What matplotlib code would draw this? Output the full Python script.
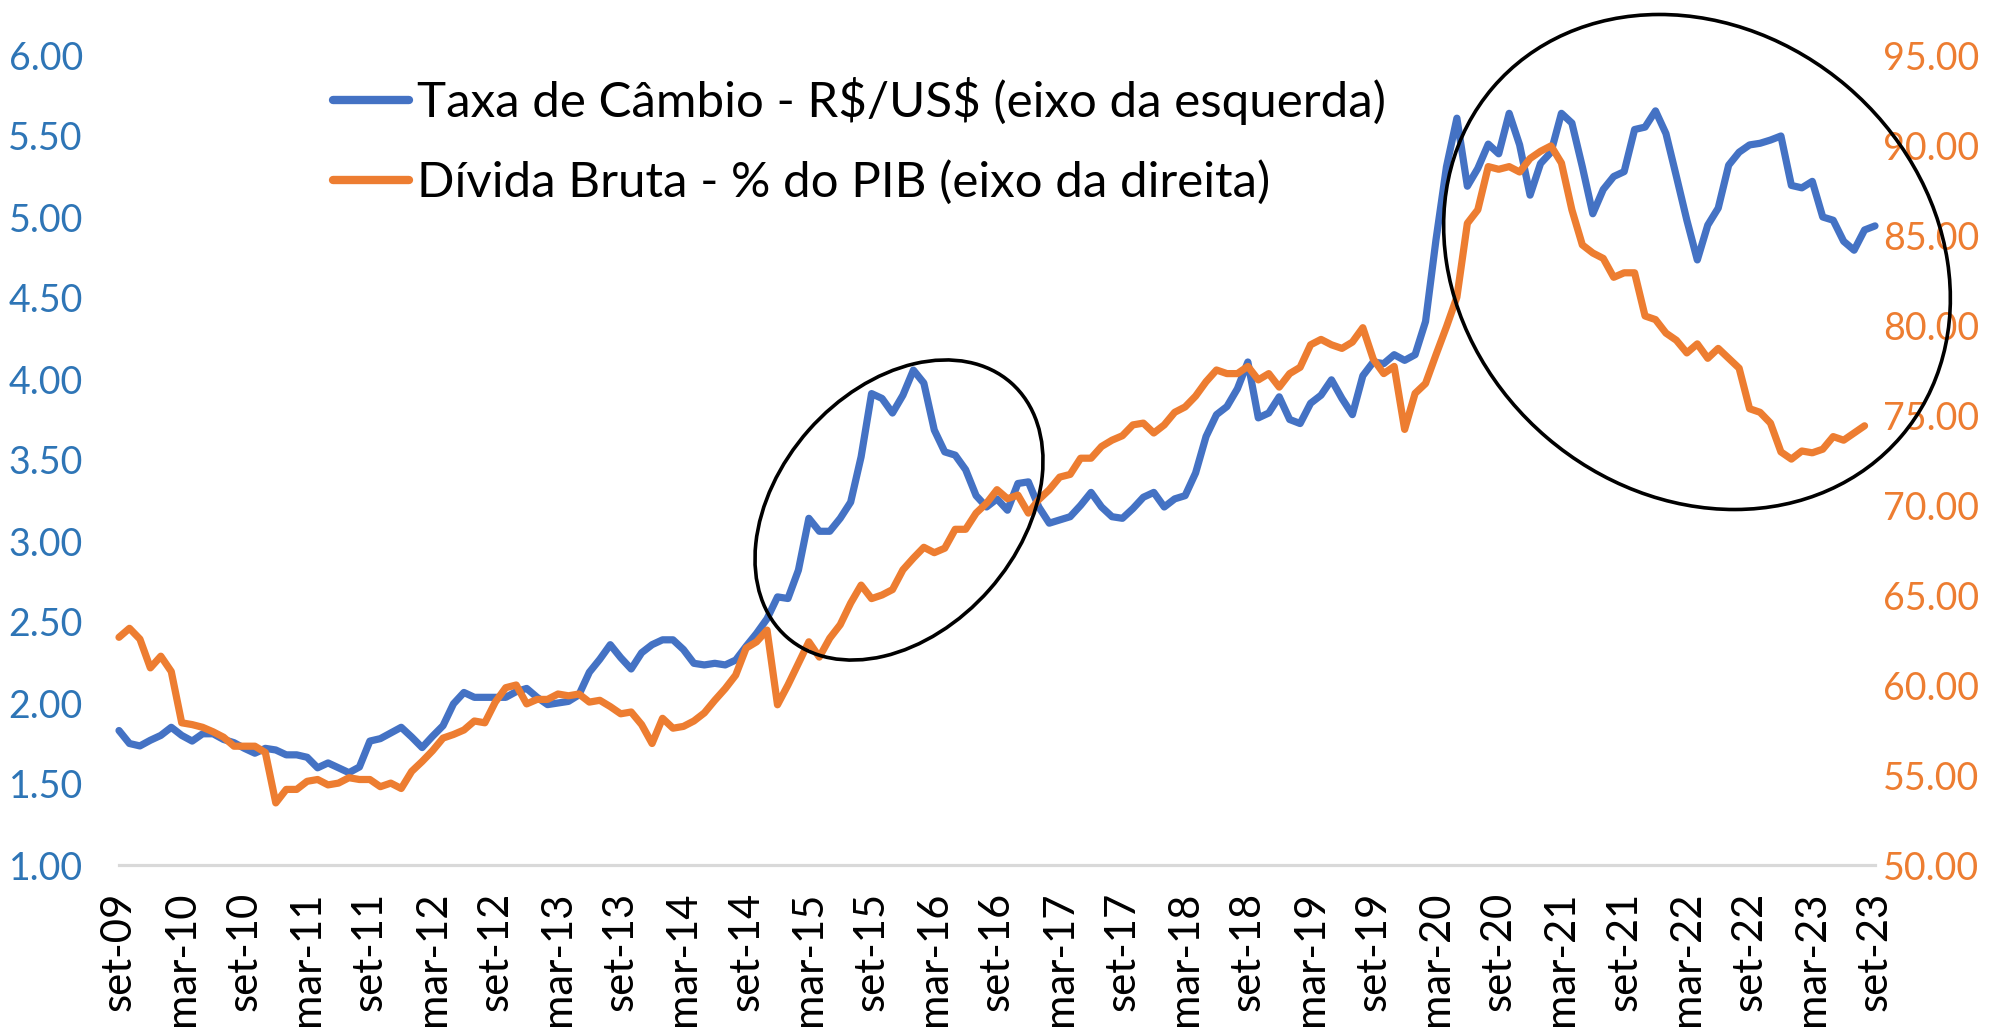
import numpy as np
import matplotlib
matplotlib.use("Agg")
import matplotlib.pyplot as plt
from matplotlib.lines import Line2D
from matplotlib.patches import Ellipse
from matplotlib.transforms import IdentityTransform

# ---------------- data (monthly, set-09 .. set-23) ----------------
cambio = [
    1.83, 1.75, 1.735, 1.77, 1.80, 1.85, 1.80, 1.765, 1.81, 1.81, 1.775, 1.755,
    1.72, 1.69, 1.72, 1.71, 1.68, 1.68, 1.665, 1.60, 1.63, 1.60, 1.57, 1.605,
    1.765, 1.78, 1.815, 1.85, 1.79, 1.725, 1.795, 1.86, 1.995, 2.065, 2.035, 2.035,
    2.035, 2.035, 2.07, 2.09, 2.035, 1.99, 2.00, 2.01, 2.05, 2.19, 2.27, 2.36,
    2.28, 2.21, 2.31, 2.36, 2.39, 2.39, 2.33, 2.245, 2.235, 2.245, 2.235, 2.265,
    2.35, 2.43, 2.52, 2.655, 2.645, 2.82, 3.14, 3.06, 3.06, 3.14, 3.24, 3.52,
    3.91, 3.88, 3.79, 3.90, 4.055, 3.975, 3.685, 3.55, 3.53, 3.44, 3.28, 3.21,
    3.26, 3.19, 3.355, 3.365, 3.21, 3.11, 3.13, 3.15, 3.22, 3.30, 3.21, 3.15,
    3.14, 3.20, 3.27, 3.30, 3.21, 3.26, 3.28, 3.42, 3.645, 3.78, 3.83, 3.94,
    4.105, 3.76, 3.79, 3.89, 3.75, 3.725, 3.85, 3.90, 3.995, 3.88, 3.78, 4.02,
    4.105, 4.095, 4.15, 4.115, 4.15, 4.355, 4.86, 5.31, 5.61, 5.19, 5.30, 5.45,
    5.39, 5.64, 5.445, 5.135, 5.33, 5.40, 5.64, 5.58, 5.31, 5.02, 5.17, 5.25,
    5.28, 5.54, 5.555, 5.655, 5.515, 5.25, 4.98, 4.735, 4.95, 5.055, 5.32, 5.40,
    5.445, 5.455, 5.475, 5.50, 5.195, 5.18, 5.22, 5.00, 4.98, 4.85, 4.795, 4.92,
    4.945,
]

divida = [
    62.65, 63.15, 62.55, 60.95, 61.6, 60.75, 57.9, 57.8, 57.65, 57.4, 57.1, 56.6,
    56.6, 56.6, 56.25, 53.45, 54.2, 54.2, 54.65, 54.75, 54.45, 54.55, 54.85, 54.75,
    54.75, 54.35, 54.55, 54.25, 55.2, 55.75, 56.35, 57.05, 57.25, 57.5, 58.0, 57.9,
    59.05, 59.85, 60.0, 58.95, 59.2, 59.2, 59.5, 59.4, 59.5, 59.05, 59.15, 58.8,
    58.4, 58.5, 57.8, 56.75, 58.15, 57.6, 57.7, 58.0, 58.45, 59.15, 59.8, 60.55,
    62.05, 62.4, 63.05, 58.9, 60.0, 61.2, 62.4, 61.55, 62.6, 63.35, 64.55, 65.55,
    64.8, 65.0, 65.3, 66.4, 67.05, 67.65, 67.35, 67.6, 68.65, 68.65, 69.55, 70.1,
    70.85, 70.35, 70.55, 69.55, 70.3, 70.85, 71.55, 71.7, 72.6, 72.6, 73.25, 73.6,
    73.85, 74.45, 74.55, 74.0, 74.45, 75.15, 75.45, 76.05, 76.85, 77.5, 77.3, 77.3,
    77.7, 76.95, 77.3, 76.55, 77.3, 77.65, 78.9, 79.2, 78.9, 78.7, 79.05, 79.85,
    78.1, 77.3, 77.7, 74.2, 76.2, 76.75, 78.35, 79.9, 81.55, 85.65, 86.4, 88.8,
    88.65, 88.8, 88.5, 89.25, 89.65, 89.95, 89.0, 86.4, 84.45, 84.0, 83.7, 82.65,
    82.9, 82.9, 80.5, 80.3, 79.55, 79.15, 78.45, 78.95, 78.15, 78.7, 78.15, 77.6,
    75.35, 75.15, 74.55, 72.95, 72.55, 73.0, 72.9, 73.1, 73.8, 73.6, 74.0, 74.4,
    np.nan,
]

tick_labels = ['set-09', 'mar-10', 'set-10', 'mar-11', 'set-11', 'mar-12', 'set-12',
               'mar-13', 'set-13', 'mar-14', 'set-14', 'mar-15', 'set-15', 'mar-16',
               'set-16', 'mar-17', 'set-17', 'mar-18', 'set-18', 'mar-19', 'set-19',
               'mar-20', 'set-20', 'mar-21', 'set-21', 'mar-22', 'set-22', 'mar-23',
               'set-23']

left_ticks = [1.00, 1.50, 2.00, 2.50, 3.00, 3.50, 4.00, 4.50, 5.00, 5.50, 6.00]
right_ticks = [50, 55, 60, 65, 70, 75, 80, 85, 90, 95]

label_cambio = r'Taxa de Câmbio - R\$/US\$ (eixo da esquerda)'
label_divida = 'Dívida Bruta - % do PIB (eixo da direita)'

assert len(cambio) == 169, len(cambio)
assert len(divida) == 169, len(divida)

BLUE = '#4472C4'
ORANGE = '#ED7D31'
LBLUE = '#2E75B6'
SANS = ['Lato', 'DejaVu Sans']
plt.rcParams['font.family'] = SANS

W, H = 2011, 1028
fig = plt.figure(figsize=(W / 100, H / 100), dpi=100)
x0, x1, ytop, ybot = 119, 1875, 55, 865
ax = fig.add_axes([x0 / W, (H - ybot) / H, (x1 - x0) / W, (ybot - ytop) / H])
ax2 = ax.twinx()

x = np.arange(len(cambio))
ax.plot(x, cambio, color=BLUE, lw=5.2, solid_joinstyle='round',
        solid_capstyle='round', clip_on=False, zorder=3)
ax2.plot(x, divida, color=ORANGE, lw=5.2, solid_joinstyle='round',
         solid_capstyle='round', clip_on=False, zorder=3)

ax.set_xlim(0, len(cambio) - 1)
ax.set_ylim(left_ticks[0], left_ticks[-1])
ax2.set_ylim(right_ticks[0], right_ticks[-1])

ax.set_yticks(left_ticks)
ax.set_yticklabels([f'{v:.2f}' for v in left_ticks])
ax2.set_yticks(right_ticks)
ax2.set_yticklabels([f'{v:.2f}' for v in right_ticks])
ax.set_xticks(np.arange(0, len(cambio), 6))
ax.set_xticklabels(tick_labels)

ax.tick_params(axis='y', length=0, pad=26, labelsize=27, labelcolor=LBLUE)
ax2.tick_params(axis='y', length=0, pad=6, labelsize=27, labelcolor=ORANGE)
ax.tick_params(axis='x', length=0, pad=19, labelsize=30, labelrotation=90,
               labelcolor='black')

# fit the x label size so that "set-09" spans ~119 px, as in the reference
fig.canvas.draw()
renderer = fig.canvas.get_renderer()
lab0 = ax.get_xticklabels()[0]
ext = lab0.get_window_extent(renderer).height
if ext > 0:
    new_size = 30 * 119.0 / ext
    ax.tick_params(axis='x', labelsize=new_size)

for a in (ax, ax2):
    for s in ('top', 'left', 'right', 'bottom'):
        a.spines[s].set_visible(False)
ax.spines['bottom'].set_visible(True)
ax.spines['bottom'].set_color('#D9D9D9')
ax.spines['bottom'].set_linewidth(2.3)
ax.grid(False)
ax2.grid(False)

handles = [Line2D([], [], color=BLUE, lw=6, solid_capstyle='round'),
           Line2D([], [], color=ORANGE, lw=6, solid_capstyle='round')]
fig.legend(handles, [label_cambio, label_divida], loc='upper left',
           bbox_to_anchor=(333 / W, 1 - 77 / H), frameon=False,
           prop={'family': SANS, 'size': 35.5}, handlelength=1.55,
           handletextpad=0.15, labelspacing=0.72, borderpad=0, borderaxespad=0)

# annotation ellipses (pixel coordinates of the figure)
e1 = Ellipse((899, H - 510), 339, 241, angle=48.6, fill=False, edgecolor='black',
             lw=2.6, transform=IdentityTransform(), zorder=10)
e2 = Ellipse((1697, H - 262), 537, 462, angle=-40.5, fill=False, edgecolor='black',
             lw=2.6, transform=IdentityTransform(), zorder=10)
fig.add_artist(e1)
fig.add_artist(e2)

fig.savefig('out.png', dpi=100, facecolor='white')
